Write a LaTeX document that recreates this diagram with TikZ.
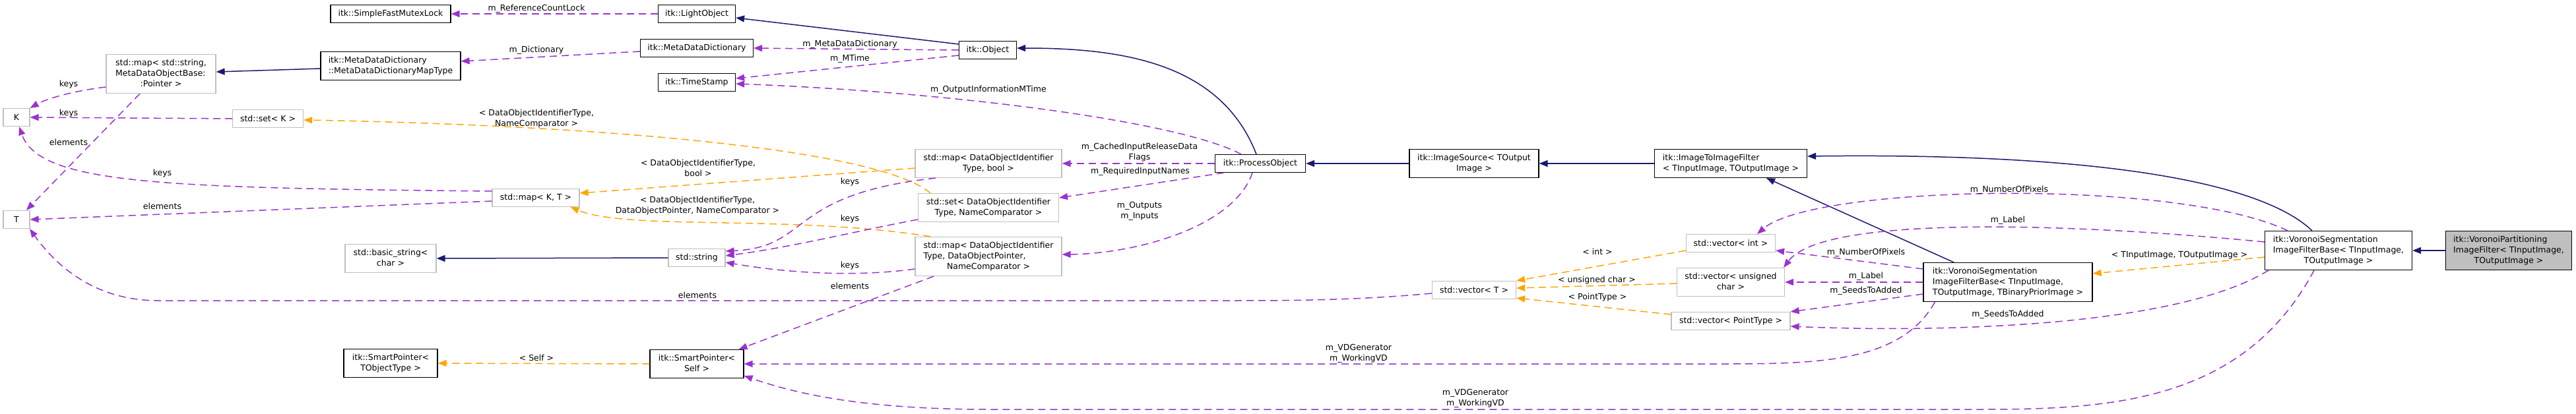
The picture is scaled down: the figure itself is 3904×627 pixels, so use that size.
\documentclass[tikz,border=0pt]{standalone}
\usepackage{fontspec}
\setmainfont{DejaVu Sans}
\usepackage{xcolor}
\usepackage{tikz}
\usetikzlibrary{arrows.meta}

\definecolor{edgeuse}{HTML}{9A32CD}
\definecolor{edgetpl}{HTML}{FFA500}
\definecolor{edgeinh}{HTML}{191970}
\definecolor{boxgray}{HTML}{BFBFBF}

% two or three line class names: upper lines left, last line centred
\newcommand{\cls}[2]{\begin{tabular}{@{}l@{}}#1\\\multicolumn{1}{@{}c@{}}{#2}\end{tabular}}

\begin{document}
\begin{tikzpicture}[
  x=1pt, y=-1pt,
  >={Triangle[length=13pt,width=10pt]},
  every node/.style={font=\fontsize{12.5}{16}\selectfont},
  klass/.style={
    draw=black, line width=1.2pt, fill=white, align=center,
    inner xsep=5pt, inner ysep=5.5pt, minimum height=27pt
  },
  extern/.style={klass, draw=boxgray},
  focus/.style={klass, fill=boxgray},
  lbl/.style={inner sep=0pt, align=center},
  member/.style={->, edgeuse, line width=1.5pt, dash pattern=on 11pt off 7pt},
  tmpl/.style={member, edgetpl},
  inherit/.style={->, edgeinh, line width=1.5pt}
]

\useasboundingbox (0,0) rectangle (3904,627);

% Column 0: template parameters
\node[extern, minimum width=40] (K) at (25,178) {K};
\node[extern, minimum width=40] (T) at (25,333) {T};

% Column 1
\node[extern, minimum width=166] (mapstr) at (244,112) {\cls{std::map< std::string,\\MetaDataObjectBase:}{:Pointer >}};
\node[extern, minimum width=107] (setK) at (406,180) {std::set< K >};

% Column 2
\node[klass, minimum width=182] (mutex) at (592,21) {itk::SimpleFastMutexLock};
\node[klass, minimum width=212] (mddmap) at (592,100) {\cls{itk::MetaDataDictionary}{::MetaDataDictionaryMapType}};
\node[extern, minimum width=138] (basicstr) at (592,392) {\cls{std::basic\_string<}{char >}};
\node[klass, minimum width=142] (sptobj) at (592,551) {\cls{itk::SmartPointer<}{TObjectType >}};

% Column 3
\node[extern, minimum width=132] (mapKT) at (812,300) {std::map< K, T >};

% Column 4
\node[klass, minimum width=117] (light) at (1056,21) {itk::LightObject};
\node[klass, minimum width=171] (mdd) at (1056,73) {itk::MetaDataDictionary};
\node[klass, minimum width=117] (stamp) at (1056,125) {itk::TimeStamp};
\node[extern, minimum width=86] (stdstr) at (1056,391) {std::string};
\node[klass, minimum width=142] (sptself) at (1056,552) {\cls{itk::SmartPointer<}{Self >}};

% Column 5
\node[klass, minimum width=87] (object) at (1497,76) {itk::Object};
\node[extern, minimum width=222] (mapbool) at (1498,248) {\cls{std::map< DataObjectIdentifier}{Type, bool >}};
\node[extern, minimum width=213] (setnc) at (1498,315) {\cls{std::set< DataObjectIdentifier}{Type, NameComparator >}};
\node[extern, minimum width=222] (mapdop) at (1498,389) {\cls{std::map< DataObjectIdentifier\\Type, DataObjectPointer,}{NameComparator >}};

% Column 6
\node[klass, minimum width=137] (process) at (1910,248) {itk::ProcessObject};

% Column 7
\node[klass, minimum width=196] (source) at (2234,248) {\cls{itk::ImageSource< TOutput}{Image >}};
\node[extern, minimum width=127] (vecT) at (2234,440) {std::vector< T >};

% Column 8
\node[klass, minimum width=231] (i2i) at (2623,248) {\cls{itk::ImageToImageFilter}{< TInputImage, TOutputImage >}};
\node[extern, minimum width=135] (vecint) at (2623,369) {std::vector< int >};
\node[extern, minimum width=163] (vecuchar) at (2623,428) {\cls{std::vector< unsigned}{char >}};
\node[extern, minimum width=180] (vecpt) at (2623,487) {std::vector< PointType >};

% Column 9 to 11
\node[klass, minimum width=256] (vsb3) at (3043,428) {\cls{itk::VoronoiSegmentation\\ImageFilterBase< TInputImage,}{TOutputImage, TBinaryPriorImage >}};
\node[klass, minimum width=223] (vsb2) at (3544,380) {\cls{itk::VoronoiSegmentation\\ImageFilterBase< TInputImage,}{TOutputImage >}};
\node[focus, minimum width=191] (vpart) at (3802,380) {\cls{itk::VoronoiPartitioning\\ImageFilter< TInputImage,}{TOutputImage >}};

% Inheritance
\draw[inherit] ([yshift=9pt]object.west) -- ([yshift=-6pt]light.east);
\draw[inherit] ([yshift=-4pt]mddmap.west) -- ([yshift=3pt]mapstr.east);
\draw[inherit] (stdstr.west) -- (basicstr.east);
\draw[inherit] ([xshift=-6pt]process.north) .. controls (1850,95) and (1700,73) .. ([yshift=3pt]object.east);
\draw[inherit] (source.west) -- (process.east);
\draw[inherit] (i2i.west) -- (source.east);
\draw[inherit] ([xshift=-82pt]vsb3.north) -- ([xshift=54pt]i2i.south);
\draw[inherit] ([xshift=-40pt]vsb2.north) .. controls (3420,270) and (3150,232) .. ([yshift=11pt]i2i.east);
\draw[inherit] (vpart.west) -- (vsb2.east);

% Template instances
\draw[tmpl] ([xshift=-88pt]setnc.north) .. controls (1330,225) and (900,190) .. ([yshift=-2pt]setK.east);
\draw[tmpl] ([yshift=-7pt]mapbool.west) -- ([yshift=7pt]mapKT.east);
\draw[tmpl] ([xshift=-88pt]mapdop.north) .. controls (1200,325) and (950,350) .. ([xshift=-14pt]mapKT.south east);
\draw[tmpl] (sptself.west) -- (sptobj.east);
\draw[tmpl] ([yshift=-11pt]vecint.west) -- (vecT.north east);
\draw[tmpl] ([yshift=-2pt]vecuchar.west) -- ([yshift=3pt]vecT.east);
\draw[tmpl] ([yshift=10pt]vecpt.west) -- ([yshift=-12pt]vecT.east);
\draw[tmpl] ([yshift=-10pt]vsb2.west) -- ([yshift=13pt]vsb3.east);

% Members
\draw[member] (light.west) -- (mutex.east);
\draw[member] ([yshift=-5pt]mdd.west) -- ([yshift=7pt]mddmap.east);
\draw[member] (object.west) -- (mdd.east);
\draw[member] ([yshift=-8pt]object.west) -- ([yshift=6pt]stamp.east);
\draw[member] ([xshift=40pt]process.north west) .. controls (1790,185) and (1450,140) .. ([yshift=-2pt]stamp.east);
\draw[member] (process.west) -- (mapbool.east);
\draw[member] ([xshift=14pt]process.south west) -- ([yshift=15pt]setnc.east);
\draw[member] ([xshift=-12pt]process.south) .. controls (1870,345) and (1720,385) .. ([yshift=3pt]mapdop.east);
\draw[member] ([yshift=-20pt]mapstr.west) .. controls (110,138) and (70,150) .. (K.north east);
\draw[member] ([xshift=-32pt]mapstr.south) -- ([xshift=15pt]T.north);
\draw[member] (setK.west) -- (K.east);
\draw[member] ([yshift=10pt]mapKT.west) .. controls (250,285) and (60,280) .. ([xshift=4pt]K.south);
\draw[member] ([yshift=-5pt]mapKT.west) -- (T.east);
\draw[member] ([yshift=-5pt]vecT.west) .. controls (2050,456) and (1950,456) .. (1850,456) -- (240,456) .. controls (150,456) and (90,410) .. ([xshift=20pt]T.south);
\draw[member] ([xshift=-80pt]mapbool.south) .. controls (1190,295) and (1230,375) .. ([yshift=10pt]stdstr.east);
\draw[member] ([yshift=-18pt]setnc.west) .. controls (1300,350) and (1200,375) .. ([yshift=3pt]stdstr.east);
\draw[member] ([yshift=-19pt]mapdop.west) .. controls (1300,420) and (1200,415) .. ([yshift=-7pt]stdstr.east);
\draw[member] ([xshift=-83pt]mapdop.south) -- ([xshift=-8pt]sptself.north east);
\draw[member] ([yshift=20pt]vsb3.west) -- ([yshift=-11pt]vecint.east);
\draw[member] (vsb3.west) -- (vecuchar.east);
\draw[member] ([yshift=-18pt]vsb3.west) -- (vecpt.north east);
\draw[member] ([xshift=18pt]vsb3.south west) .. controls (2880,552) and (2750,552) .. (2600,552) -- (sptself.east);
\draw[member] ([xshift=-77pt]vsb2.north) .. controls (3300,270) and (2750,280) .. ([xshift=40pt]vecint.north);
\draw[member] ([yshift=13pt]vsb2.west) .. controls (3100,335) and (2760,330) .. ([xshift=-2pt]vecuchar.north east);
\draw[member] ([xshift=6pt]vsb2.south west) .. controls (3300,495) and (2950,505) .. ([yshift=-8pt]vecpt.east);
\draw[member] ([xshift=-37pt]vsb2.south) .. controls (3400,610) and (3200,621) .. (3000,621) -- (1500,621) .. controls (1300,621) and (1200,595) .. ([yshift=-18pt]sptself.east);

% Edge labels
\node[lbl] (lRef) at (813,13) {m\_ReferenceCountLock};
\node[lbl] (lDict) at (813,76) {m\_Dictionary};
\node[lbl] (lMeta) at (1288,67) {m\_MetaDataDictionary};
\node[lbl] (lMTime) at (1288,89) {m\_MTime};
\node[lbl] (lOutInfo) at (1498,136) {m\_OutputInformationMTime};
\node[lbl] (lCached) at (1727,231) {m\_CachedInputReleaseData\\Flags};
\node[lbl] (lReq) at (1728,260) {m\_RequiredInputNames};
\node[lbl] (lOuts) at (1727,320) {m\_Outputs\\m\_Inputs};
\node[lbl] (lKeysA) at (104,128) {keys};
\node[lbl] (lKeysB) at (104,172) {keys};
\node[lbl] (lElemA) at (104,216) {elements};
\node[lbl] (lKeysC) at (246,263) {keys};
\node[lbl] (lElemB) at (246,313) {elements};
\node[lbl] (lElemC) at (1057,448) {elements};
\node[lbl] (lKeysD) at (1288,276) {keys};
\node[lbl] (lKeysE) at (1288,332) {keys};
\node[lbl] (lKeysF) at (1288,403) {keys};
\node[lbl] (lElemD) at (1288,434) {elements};
\node[lbl] (lTplNC) at (813,180) {< DataObjectIdentifierType,\\NameComparator >};
\node[lbl] (lTplBool) at (1058,255) {< DataObjectIdentifierType,\\bool >};
\node[lbl] (lTplDop) at (1057,312) {< DataObjectIdentifierType,\\DataObjectPointer, NameComparator >};
\node[lbl] (lSelf) at (813,543) {< Self >};
\node[lbl] (lInt) at (2421,382) {< int >};
\node[lbl] (lUChar) at (2420,425) {< unsigned char >};
\node[lbl] (lPt) at (2421,451) {< PointType >};
\node[lbl] (lTplIO) at (3303,387) {< TInputImage, TOutputImage >};
\node[lbl] (lNumA) at (2828,383) {m\_NumberOfPixels};
\node[lbl] (lLabA) at (2828,419) {m\_Label};
\node[lbl] (lSeedA) at (2828,441) {m\_SeedsToAdded};
\node[lbl] (lVDA) at (2059,536) {m\_VDGenerator\\m\_WorkingVD};
\node[lbl] (lNumB) at (3045,288) {m\_NumberOfPixels};
\node[lbl] (lLabB) at (3043,334) {m\_Label};
\node[lbl] (lSeedB) at (3043,477) {m\_SeedsToAdded};
\node[lbl] (lVDB) at (2236,604) {m\_VDGenerator\\m\_WorkingVD};

\end{tikzpicture}
\end{document}
